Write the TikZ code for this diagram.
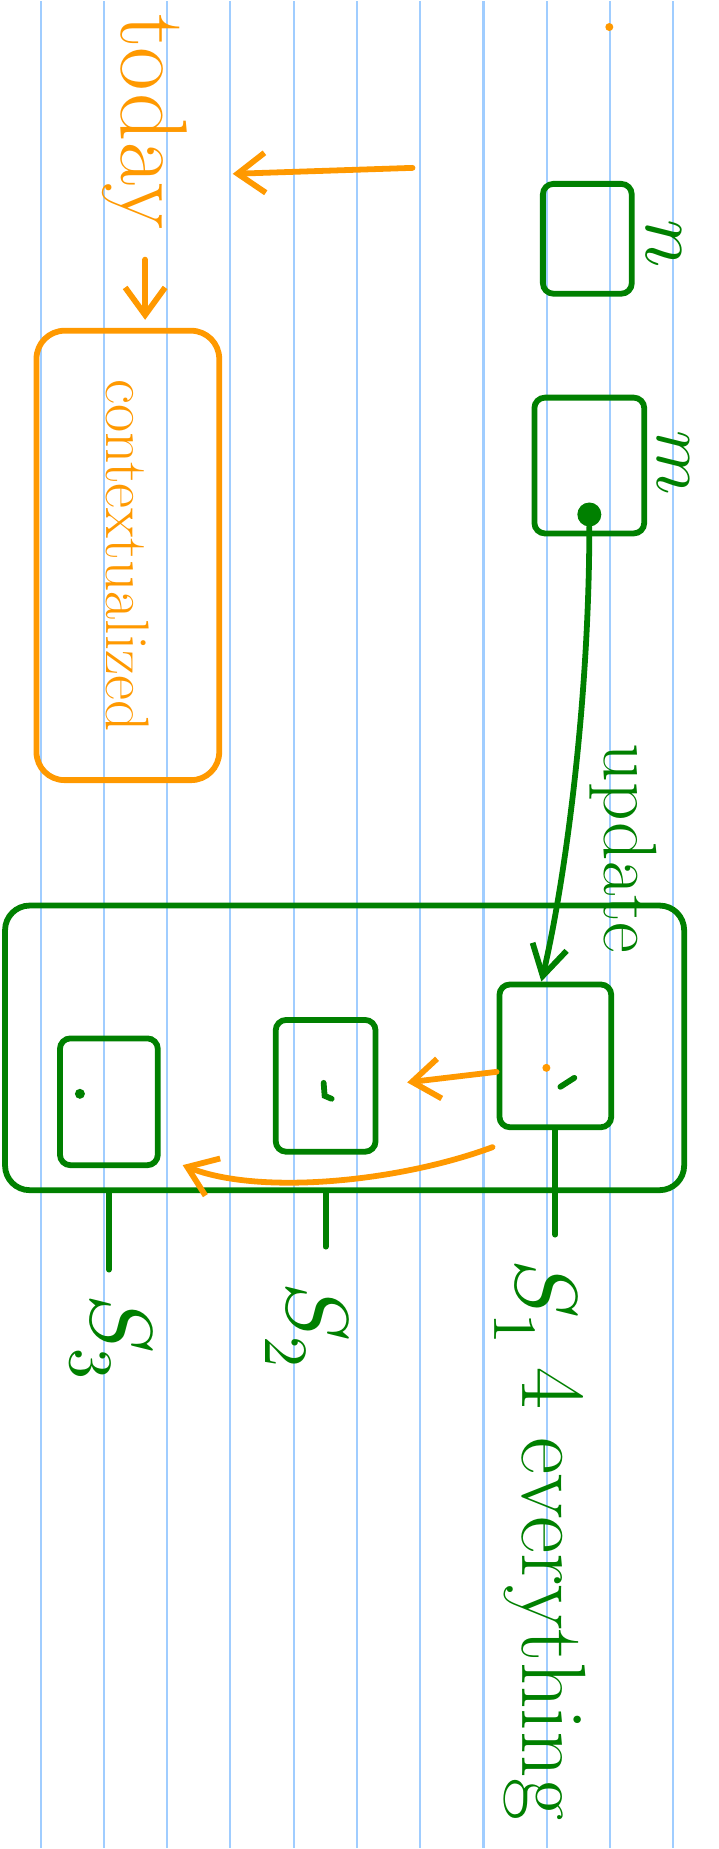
\documentclass[tikz,border=0pt]{standalone}
\usepackage{unicode-math}
\usepackage{tikz}
\usetikzlibrary{arrows.meta, positioning, calc}
\definecolor{inkgreen}{RGB}{0,128,0}
\definecolor{inkorange}{RGB}{255,153,0}
\definecolor{ruleblue}{RGB}{160,205,255}

\begin{document}
\begin{tikzpicture}[
  x=0.02cm, y=-0.02cm,
  gbox/.style={draw=inkgreen, line width=3.3pt, rounded corners=6pt, inner sep=0pt},
  obox/.style={draw=inkorange, line width=3.3pt, rounded corners=16pt, text=inkorange},
  gtext/.style={text=inkgreen, inner sep=0pt, rotate=-90, anchor=base west},
  otext/.style={text=inkorange, inner sep=0pt, rotate=-90, anchor=base west},
  gwire/.style={draw=inkgreen, line width=3.3pt, line cap=round},
  garrow/.style={gwire, -{Straight Barb[length=0.6cm, width=0.7cm]}},
  oarrow/.style={draw=inkorange, line width=3.3pt, line cap=round,
                 -{Straight Barb[length=0.55cm, width=0.8cm]}}
]
  % ruled paper
  \fill[white] (0,0) rectangle (719,1849);
  \foreach \k in {0,...,10}
    \draw[ruleblue, line width=1.2pt] ({40.7+63.33*\k},0) -- ({40.7+63.33*\k},1849);
  \useasboundingbox (0,0) rectangle (719,1849);

  % orange notes, left column
  \node[otext, font=\fontsize{54}{58}\selectfont] (today) at (122,13) {today};
  \coordinate (todaysrc) at (413,167);
  \coordinate (todaytip) at (233,173);
  \node[obox, rotate=-90, minimum width=9cm, minimum height=3.66cm,
        font=\fontsize{35}{38}\selectfont] (ctx) at (128,555) {contextualized};
  \fill[inkorange] (610,26) circle (4);

  % input boxes
  \node[gbox, minimum width=1.78cm, minimum height=2.2cm] (inn) at (588,238) {};
  \node[gtext, font=\fontsize{46}{50}\selectfont] (nlab) at (647,218) {$n$};
  \node[gbox, minimum width=2.2cm, minimum height=2.72cm] (inm) at (590,465) {};
  \node[gtext, font=\fontsize{42}{46}\selectfont] (mlab) at (658,430) {$m$};
  \node[circle, fill=inkgreen, minimum size=0.48cm, inner sep=0pt] (dot) at (590,514) {};
  \node[gtext, font=\fontsize{43}{46}\selectfont] (upd) at (605,743) {update};

  % big box with cells
  \node[gbox, rounded corners=14pt, minimum width=13.6cm, minimum height=5.7cm] (frame) at (345,1048) {};
  \node[gbox, minimum width=2.24cm, minimum height=2.86cm] (cell1) at (556,1056) {};
  \node[gbox, minimum width=2cm, minimum height=2.64cm] (cell2) at (326,1086) {};
  \node[gbox, minimum width=1.96cm, minimum height=2.54cm] (cell3) at (109,1102) {};
  \fill[inkorange] (547,1068) circle (4);
  \draw[gwire] (561,1087) -- (575,1078);
  \draw[gwire] (324,1083) -- (325,1096) -- (332,1099);
  \fill[inkgreen] (80,1094) circle (5);

  % outputs
  \node[gtext, font=\fontsize{50}{54}\selectfont] (s1) at (517,1260) {$S_1$};
  \node[gtext, font=\fontsize{50}{54}\selectfont] (s2) at (288,1283) {$S_2$};
  \node[gtext, font=\fontsize{50}{54}\selectfont] (s3) at (92,1295) {$S_3$};
  \node[gtext, font=\fontsize{52}{56}\selectfont] (every) at (523,1368) {4 everything};

  % arrows
  \draw[oarrow] (todaysrc) -- (todaytip);
  \draw[oarrow, shorten <=0.6cm, shorten >=0.16cm] (today.east) -- (today.east |- ctx.west);
  \draw[garrow] (dot) .. controls (590,700) and (566,880) .. ([xshift=-0.28cm]cell1.north);
  \draw[oarrow, shorten >=0.58cm] ([yshift=-0.32cm]cell1.west) -- (cell2.east);
  \draw[oarrow] ($(cell1.south west)+(-4,17)$) .. controls (400,1182) and (260,1196) .. ($(cell3.south east)+(22,-3)$);
  \draw[gwire, shorten >=0.5cm] (cell1.south) -- (cell1.south |- s1.west);
  \draw[gwire, shorten >=0.72cm] (cell2 |- frame.south) -- (cell2 |- s2.west);
  \draw[gwire, shorten >=0.5cm] (cell3 |- frame.south) -- (cell3 |- s3.west);
\end{tikzpicture}
\end{document}
